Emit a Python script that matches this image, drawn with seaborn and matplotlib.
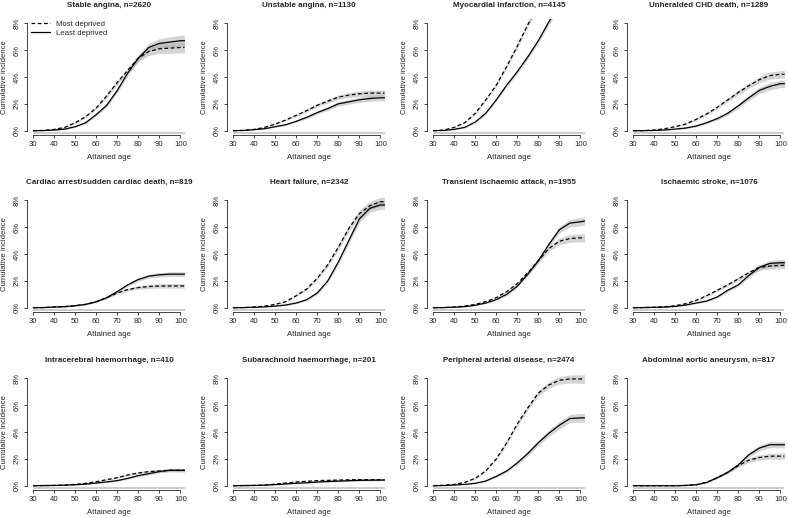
"""
Cumulative incidence by attained age, most vs least deprived
12 cardiovascular endpoints, R base-graphics look
"""
import numpy as np
import pandas as pd
import matplotlib
matplotlib.use('Agg')
import matplotlib.pyplot as plt
import seaborn as sns

# ============================================================================
# DATA
# ============================================================================
ages = [30, 35, 40, 45, 50, 55, 60, 65, 70, 75, 80, 85, 90, 95, 100, 102]

stable_most = [0, 0.02, 0.1, 0.25, 0.6, 1.05, 1.7, 2.6, 3.6, 4.5, 5.4, 5.9, 6.1, 6.15, 6.2, 6.2]
stable_least = [0, 0.01, 0.05, 0.12, 0.3, 0.6, 1.2, 1.9, 3.0, 4.3, 5.4, 6.2, 6.5, 6.6, 6.7, 6.7]
stable_ci = [0, 0, 0.02, 0.04, 0.06, 0.08, 0.1, 0.13, 0.16, 0.2, 0.24, 0.3, 0.35, 0.38, 0.4, 0.4]

unstable_most = [0, 0.02, 0.1, 0.25, 0.5, 0.8, 1.15, 1.5, 1.9, 2.2, 2.5, 2.65, 2.75, 2.8, 2.8, 2.8]
unstable_least = [0, 0.02, 0.08, 0.15, 0.3, 0.45, 0.7, 1.0, 1.35, 1.65, 2.0, 2.15, 2.3, 2.4, 2.45, 2.45]
unstable_ci = [0, 0, 0.02, 0.03, 0.05, 0.06, 0.08, 0.1, 0.12, 0.14, 0.16, 0.18, 0.2, 0.22, 0.22, 0.22]

mi_most = [0, 0.05, 0.25, 0.6, 1.3, 2.3, 3.4, 4.8, 6.3, 7.9, 9.3, 10.3, 10.8, 11.0, 11.1, 11.1]
mi_least = [0, 0.02, 0.1, 0.25, 0.65, 1.3, 2.3, 3.4, 4.4, 5.5, 6.7, 8.1, 9.3, 9.9, 10.1, 10.1]
mi_ci = [0, 0.01, 0.03, 0.05, 0.07, 0.09, 0.11, 0.13, 0.15, 0.17, 0.19, 0.22, 0.26, 0.3, 0.32, 0.32]

chd_most = [0, 0.01, 0.05, 0.15, 0.3, 0.5, 0.85, 1.25, 1.75, 2.3, 2.85, 3.35, 3.8, 4.1, 4.2, 4.2]
chd_least = [0, 0, 0.02, 0.05, 0.12, 0.2, 0.35, 0.6, 0.9, 1.3, 1.85, 2.45, 3.0, 3.3, 3.5, 3.5]
chd_ci = [0, 0, 0.01, 0.02, 0.03, 0.05, 0.07, 0.09, 0.11, 0.14, 0.17, 0.2, 0.24, 0.27, 0.28, 0.28]

arrest_most = [0, 0.01, 0.05, 0.08, 0.15, 0.25, 0.45, 0.75, 1.1, 1.35, 1.5, 1.58, 1.62, 1.62, 1.62, 1.62]
arrest_least = [0, 0.01, 0.05, 0.08, 0.15, 0.25, 0.45, 0.75, 1.2, 1.7, 2.1, 2.35, 2.45, 2.5, 2.5, 2.5]
arrest_ci = [0, 0, 0.01, 0.02, 0.03, 0.04, 0.05, 0.07, 0.09, 0.11, 0.13, 0.15, 0.16, 0.17, 0.17, 0.17]

hf_most = [0, 0.01, 0.05, 0.12, 0.25, 0.45, 0.9, 1.4, 2.2, 3.2, 4.5, 5.9, 7.0, 7.6, 7.9, 7.9]
hf_least = [0, 0.01, 0.03, 0.06, 0.12, 0.2, 0.35, 0.6, 1.1, 2.0, 3.4, 5.0, 6.6, 7.4, 7.65, 7.65]
hf_ci = [0, 0, 0.01, 0.02, 0.03, 0.04, 0.06, 0.08, 0.11, 0.14, 0.18, 0.22, 0.27, 0.3, 0.32, 0.32]

tia_most = [0, 0.01, 0.05, 0.12, 0.25, 0.45, 0.75, 1.2, 1.8, 2.6, 3.5, 4.4, 4.95, 5.15, 5.2, 5.2]
tia_least = [0, 0.01, 0.04, 0.08, 0.18, 0.35, 0.6, 1.0, 1.6, 2.5, 3.5, 4.7, 5.8, 6.3, 6.4, 6.45]
tia_ci = [0, 0, 0.01, 0.02, 0.03, 0.04, 0.06, 0.08, 0.1, 0.13, 0.16, 0.2, 0.25, 0.28, 0.3, 0.3]

stroke_most = [0, 0.01, 0.03, 0.07, 0.15, 0.3, 0.55, 0.9, 1.3, 1.7, 2.15, 2.6, 3.0, 3.1, 3.15, 3.15]
stroke_least = [0, 0.01, 0.03, 0.05, 0.1, 0.2, 0.35, 0.5, 0.8, 1.3, 1.7, 2.4, 3.0, 3.3, 3.35, 3.35]
stroke_ci = [0, 0, 0.01, 0.02, 0.03, 0.04, 0.05, 0.07, 0.09, 0.11, 0.13, 0.16, 0.2, 0.22, 0.23, 0.23]

ich_most = [0, 0.01, 0.02, 0.05, 0.1, 0.18, 0.3, 0.45, 0.6, 0.8, 0.95, 1.05, 1.1, 1.15, 1.15, 1.15]
ich_least = [0, 0.01, 0.02, 0.04, 0.07, 0.12, 0.2, 0.28, 0.38, 0.55, 0.75, 0.9, 1.05, 1.15, 1.15, 1.15]
ich_ci = [0, 0, 0.01, 0.01, 0.02, 0.03, 0.04, 0.05, 0.06, 0.07, 0.08, 0.09, 0.1, 0.11, 0.12, 0.12]

sah_most = [0, 0.01, 0.02, 0.05, 0.12, 0.2, 0.28, 0.33, 0.38, 0.4, 0.42, 0.44, 0.45, 0.45, 0.45, 0.45]
sah_least = [0, 0.01, 0.02, 0.04, 0.08, 0.13, 0.18, 0.22, 0.27, 0.31, 0.34, 0.37, 0.4, 0.41, 0.42, 0.42]
sah_ci = [0, 0, 0.01, 0.01, 0.02, 0.02, 0.03, 0.03, 0.04, 0.04, 0.05, 0.05, 0.06, 0.06, 0.06, 0.06]

pad_most = [0, 0.03, 0.1, 0.25, 0.55, 1.1, 2.0, 3.2, 4.6, 5.8, 6.9, 7.5, 7.85, 7.95, 7.95, 7.95]
pad_least = [0, 0.01, 0.05, 0.1, 0.18, 0.35, 0.7, 1.1, 1.7, 2.4, 3.2, 3.9, 4.5, 5.0, 5.05, 5.05]
pad_ci = [0, 0, 0.01, 0.02, 0.04, 0.06, 0.08, 0.11, 0.14, 0.17, 0.2, 0.24, 0.28, 0.3, 0.32, 0.32]

aaa_most = [0, 0, 0, 0, 0, 0.02, 0.07, 0.25, 0.6, 1.0, 1.5, 1.9, 2.1, 2.2, 2.2, 2.2]
aaa_least = [0, 0, 0, 0, 0, 0.02, 0.07, 0.25, 0.6, 1.0, 1.55, 2.3, 2.8, 3.05, 3.05, 3.05]
aaa_ci = [0, 0, 0, 0, 0, 0.01, 0.02, 0.04, 0.06, 0.09, 0.12, 0.16, 0.2, 0.22, 0.23, 0.23]

titles = ['Stable angina, n=2620', 'Unstable angina, n=1130',
          'Myocardial infarction, n=4145', 'Unheralded CHD death, n=1289',
          'Cardiac arrest/sudden cardiac death, n=819', 'Heart failure, n=2342',
          'Transient ischaemic attack, n=1955', 'Ischaemic stroke, n=1076',
          'Intracerebral haemorrhage, n=410', 'Subarachnoid haemorrhage, n=201',
          'Peripheral arterial disease, n=2474', 'Abdominal aortic aneurysm, n=817']

panels = [(stable_most, stable_least, stable_ci), (unstable_most, unstable_least, unstable_ci),
          (mi_most, mi_least, mi_ci), (chd_most, chd_least, chd_ci),
          (arrest_most, arrest_least, arrest_ci), (hf_most, hf_least, hf_ci),
          (tia_most, tia_least, tia_ci), (stroke_most, stroke_least, stroke_ci),
          (ich_most, ich_least, ich_ci), (sah_most, sah_least, sah_ci),
          (pad_most, pad_least, pad_ci), (aaa_most, aaa_least, aaa_ci)]

x_ticks = [30, 40, 50, 60, 70, 80, 90, 100]
y_ticks = [0, 2, 4, 6, 8]

# ============================================================================
# STYLE
# ============================================================================
sns.set_style('white')
plt.rcParams['font.family'] = ['Liberation Sans', 'DejaVu Sans']
plt.rcParams['axes.linewidth'] = 0.6

W, H = 788, 518
fig = plt.figure(figsize=(W / 100, H / 100), dpi=100)

col_x30 = [33.3, 233.3, 433.3, 633.3]
row_y0 = [130.7, 307.7, 485.7]
px_per_year = 147 / 70
px_per_pct = 107.4 / 8
xlim = (30 - 0.04 * 72, 102 + 0.04 * 72)
ylim = (-0.32, 8.32)

fs = 5.6

for i, (most, least, ci) in enumerate(panels):
    r, c = divmod(i, 4)
    left = col_x30[c] - (30 - xlim[0]) * px_per_year
    width = (xlim[1] - xlim[0]) * px_per_year
    bottom = row_y0[r] - ylim[0] * px_per_pct
    height = (ylim[1] - ylim[0]) * px_per_pct
    ax = fig.add_axes([left / W, 1 - bottom / H, width / W, height / H])

    df = pd.DataFrame({
        'age': ages * 2,
        'inc': most + least,
        'group': ['Most deprived'] * len(ages) + ['Least deprived'] * len(ages),
    })

    # confidence bands
    for vals in (most, least):
        lo = np.array(vals) - np.array(ci)
        hi = np.array(vals) + np.array(ci)
        ax.fill_between(ages, lo, hi, color='#a0a0a0', alpha=0.45, lw=0)

    ax.hlines(-0.15, ages[0], ages[-1], color='#c4c4c4', lw=1.2)

    sns.lineplot(data=df, x='age', y='inc', style='group', color='black',
                 dashes={'Most deprived': (3, 2), 'Least deprived': ''},
                 style_order=['Most deprived', 'Least deprived'],
                 lw=0.9, legend=(i == 0), ax=ax)

    ax.set_xlim(*xlim)
    ax.set_ylim(*ylim)
    ax.set_xticks(x_ticks)
    ax.set_yticks(y_ticks)
    ax.set_yticklabels([f'{v}%' for v in y_ticks], rotation=90, va='center')
    ax.spines['top'].set_visible(False)
    ax.spines['right'].set_visible(False)
    ax.spines['left'].set_bounds(0, 8)
    ax.spines['bottom'].set_bounds(30, 100)
    ax.tick_params(axis='both', labelsize=fs, length=2.5, width=0.6,
                   pad=2, direction='out', left=True, bottom=True)
    ax.set_xlabel('Attained age', fontsize=fs, labelpad=4)
    ax.set_ylabel('Cumulative incidence', fontsize=fs, labelpad=4)
    ax.set_title(titles[i], fontsize=5.8, fontweight='bold', pad=9)

    if i == 0:
        leg = ax.legend(loc='upper left', frameon=False, fontsize=fs,
                        handlelength=2.4, borderaxespad=0.1,
                        bbox_to_anchor=(0.0, 1.02), labelspacing=0.2)
        for line in leg.get_lines():
            line.set_linewidth(0.9)

fig.savefig('out.png', dpi=100)
